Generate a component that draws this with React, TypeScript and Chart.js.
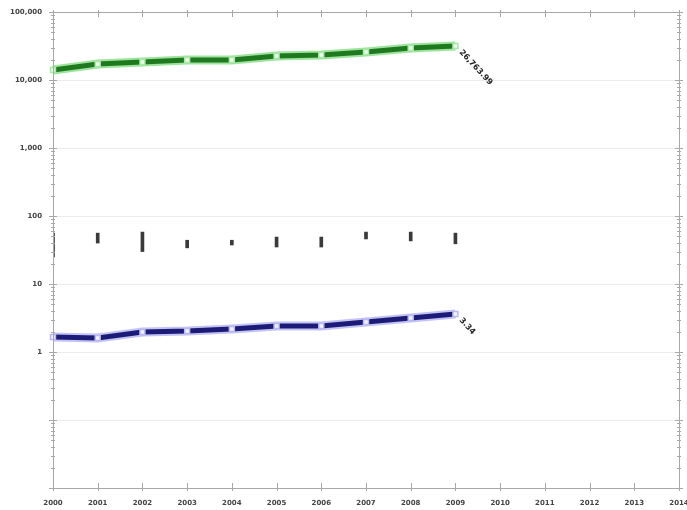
import { useEffect, useRef } from 'react';
import { Chart, registerables } from 'chart.js';

Chart.register(...registerables);

const years = ['2000', '2001', '2002', '2003', '2004', '2005', '2006', '2007', '2008', '2009', '2010', '2011', '2012', '2013', '2014'];
const greenValues = [14000, 17200, 18400, 19700, 19700, 22500, 23300, 25800, 29500, 31600];
const blueValues = [1.66, 1.61, 1.97, 2.03, 2.18, 2.41, 2.41, 2.76, 3.16, 3.62];
const barLow = [25, 40, 30, 34, 37.5, 35, 35, 46, 43, 39];
const barHigh = [56, 56, 58, 44, 44, 49, 49, 58, 58, 56];
const endLabels = ['26,763.99', '3.34'];
const yMin = 0.01;
const yMax = 100000;
const labeledTicks = [1, 10, 100, 1000, 10000, 100000];

const FONT = 'DejaVu Sans';

function buildTicks() {
  const t: { value: number; major: boolean }[] = [];
  for (let e = -2; e <= 4; e++) {
    for (let m = 1; m <= 9; m++) {
      t.push({ value: Number((m * Math.pow(10, e)).toPrecision(3)), major: m === 1 });
    }
  }
  t.push({ value: 100000, major: true });
  return t;
}

const isPow10 = (v: number) => {
  const l = Math.log10(v);
  return Math.abs(l - Math.round(l)) < 1e-9;
};

const framePlugin = {
  id: 'frame',
  afterDraw(chart: any) {
    const { ctx, chartArea } = chart;
    const { left, top, right, bottom } = chartArea;
    const x = chart.scales.x;
    const y = chart.scales.y;
    ctx.save();
    ctx.strokeStyle = '#a8a8a8';
    ctx.lineWidth = 1;
    ctx.strokeRect(Math.round(left) + 0.5, Math.round(top) + 0.5, Math.round(right - left), Math.round(bottom - top));
    ctx.beginPath();
    for (const t of y.ticks) {
      const py = Math.round(y.getPixelForValue(t.value)) + 0.5;
      const len = isPow10(t.value) ? 4 : 2;
      ctx.moveTo(left - len, py);
      ctx.lineTo(left + len, py);
      ctx.moveTo(right - len, py);
      ctx.lineTo(right + len, py);
    }
    for (let i = 0; i < years.length; i++) {
      const px = Math.round(x.getPixelForValue(i)) + 0.5;
      ctx.moveTo(px, bottom - 5);
      ctx.lineTo(px, bottom + 3);
      ctx.moveTo(px, top - 2);
      ctx.lineTo(px, top + 5);
    }
    ctx.stroke();
    ctx.restore();
  },
};

const endLabelPlugin = {
  id: 'endLabels',
  afterDatasetsDraw(chart: any) {
    const { ctx } = chart;
    const targets = [
      { ds: 1, text: endLabels[0] },
      { ds: 3, text: endLabels[1] },
    ];
    ctx.save();
    ctx.fillStyle = '#222';
    ctx.font = `bold 8px "${FONT}"`;
    ctx.textBaseline = 'middle';
    ctx.textAlign = 'left';
    for (const t of targets) {
      const meta = chart.getDatasetMeta(t.ds);
      const pts = meta.data;
      const last = pts[pts.length - 1];
      if (!last) continue;
      ctx.save();
      ctx.translate(last.x + 5, last.y + 5);
      ctx.rotate((47 * Math.PI) / 180);
      ctx.fillText(t.text, 0, 0);
      ctx.restore();
    }
    ctx.restore();
  },
};

export default function App() {
  const ref = useRef<HTMLCanvasElement | null>(null);

  useEffect(() => {
    document.body.style.margin = '0';
    if (!ref.current) return;
    const chart = new Chart(ref.current, {
      type: 'line',
      data: {
        labels: years,
        datasets: [
          {
            label: 'green halo',
            data: greenValues,
            borderColor: '#9ee39e',
            borderWidth: 9,
            pointRadius: 0,
            tension: 0,
            order: 3,
            clip: false as any,
          },
          {
            label: 'green',
            data: greenValues,
            borderColor: '#1f7a1f',
            borderWidth: 5,
            pointStyle: 'rect',
            pointRadius: 3.5,
            pointBackgroundColor: '#eefbee',
            pointBorderColor: '#a8e8a8',
            pointBorderWidth: 1.5,
            tension: 0,
            order: 1,
            clip: false as any,
          },
          {
            label: 'blue halo',
            data: blueValues,
            borderColor: '#c4c4f4',
            borderWidth: 9,
            pointRadius: 0,
            tension: 0,
            order: 3,
            clip: false as any,
          },
          {
            label: 'blue',
            data: blueValues,
            borderColor: '#1c1c78',
            borderWidth: 5,
            pointStyle: 'rect',
            pointRadius: 3.5,
            pointBackgroundColor: '#f2f2ff',
            pointBorderColor: '#b8b8ee',
            pointBorderWidth: 1.5,
            tension: 0,
            order: 1,
            clip: false as any,
          },
          {
            type: 'bar' as const,
            label: 'range',
            data: barLow.map((lo, i) => [lo, barHigh[i]]) as any,
            backgroundColor: '#3a3a3a',
            borderWidth: 0,
            barThickness: 3,
            order: 2,
          } as any,
        ],
      },
      options: {
        responsive: false,
        animation: false,
        layout: { padding: { top: 12, right: 8, left: 0, bottom: 0 } },
        plugins: {
          legend: { display: false },
          tooltip: { enabled: false },
        },
        scales: {
          x: {
            type: 'category',
            offset: false,
            grid: { display: false, drawTicks: false, offset: false },
            border: { display: false },
            ticks: {
              color: '#444',
              font: { family: FONT, size: 7, weight: 'bold' },
              padding: 11,
              maxRotation: 0,
              autoSkip: false,
            },
            afterFit: (s: any) => {
              s.height = 22;
              s.paddingLeft = 0;
              s.paddingRight = 0;
            },
          },
          y: {
            type: 'logarithmic',
            min: yMin,
            max: yMax,
            afterBuildTicks: (s: any) => {
              s.ticks = buildTicks();
            },
            grid: {
              drawTicks: false,
              color: (c: any) => (c.tick && isPow10(c.tick.value) ? '#ececec' : 'rgba(0,0,0,0)'),
            },
            border: { display: false },
            ticks: {
              color: '#444',
              font: { family: FONT, size: 7, weight: 'bold' },
              padding: 11,
              autoSkip: false,
              callback: (v: any) => {
                const n = Number(v);
                return labeledTicks.some((t) => Math.abs(t - n) < 1e-9) ? n.toLocaleString('en-US') : '';
              },
            },
            afterFit: (s: any) => {
              s.width = 53;
              s.paddingTop = 0;
              s.paddingBottom = 0;
            },
          },
        },
      },
      plugins: [framePlugin, endLabelPlugin],
    });
    return () => chart.destroy();
  }, []);

  return (
    <div style={{ position: 'absolute', left: 0, top: 0, width: 687, height: 510, background: '#fff' }}>
      <canvas ref={ref} width={687} height={510} />
    </div>
  );
}
